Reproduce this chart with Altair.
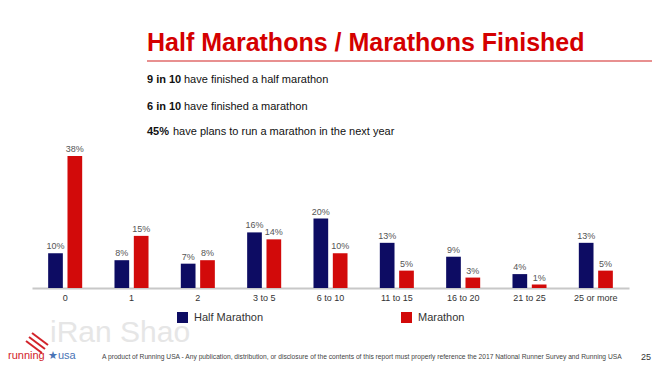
import altair as alt
import pandas as pd

categories = ["0", "1", "2", "3 to 5", "6 to 10", "11 to 15", "16 to 20", "21 to 25", "25 or more"]
half_pct = [10, 8, 7, 16, 20, 13, 9, 4, 13]
full_pct = [38, 15, 8, 14, 10, 5, 3, 1, 5]
series_names = ["Half Marathon", "Marathon"]
series_colors = ["#0d0c63", "#d20a0a"]

title_text = "Half Marathons / Marathons Finished"
bullets_bold = ["9 in 10", "6 in 10", "45%"]
bullets_rest = ["have finished a half marathon",
                "have finished a marathon",
                "have plans to run a marathon in the next year"]
footer_text = ("A product of Running USA - Any publication, distribution, or disclosure of the contents "
               "of this report must properly reference the 2017 National Runner Survey and Running USA")
page_no = "25"
watermark = "iRan Shao"

FONT = "Liberation Sans"

rows = []
for c, h, m in zip(categories, half_pct, full_pct):
    rows.append({"cat": c, "series": series_names[0], "pct": h})
    rows.append({"cat": c, "series": series_names[1], "pct": m})
df = pd.DataFrame(rows)
df["label"] = df["pct"].astype(str) + "%"

x = alt.X("cat:N", sort=categories,
          scale=alt.Scale(paddingInner=0.487, paddingOuter=0.2435),
          axis=alt.Axis(title=None, labelAngle=0, ticks=False, tickSize=0, labelPadding=5,
                        labelFontSize=9, labelColor="#333333", labelFont=FONT,
                        domainColor="#c8c8c8", domainWidth=2, grid=False))
xo = alt.XOffset("series:N", sort=series_names, scale=alt.Scale(paddingInner=0.24))
y = alt.Y("pct:Q", scale=alt.Scale(domain=[0, 40], nice=False), axis=None)
color = alt.Color("series:N", sort=series_names,
                  scale=alt.Scale(domain=series_names, range=series_colors),
                  legend=alt.Legend(orient="none", legendX=145, legendY=163, direction="horizontal",
                                    title=None, symbolType="square", symbolSize=121,
                                    symbolStrokeWidth=0, symbolOpacity=1, labelFontSize=11,
                                    labelColor="#333333", labelFont=FONT, columnPadding=137,
                                    labelOffset=6))

base = alt.Chart(df)
bars = base.mark_bar().encode(x=x, xOffset=xo, y=y, color=color)
labels = base.mark_text(baseline="bottom", dy=-2, fontSize=9, color="#555555", font=FONT).encode(
    x=x, xOffset=xo, y=y, text="label:N")


def note(text, px, py, **kw):
    return alt.Chart(pd.DataFrame({"t": [text]})).mark_text(font=FONT, **kw).encode(
        x=alt.value(px), y=alt.value(py), text="t:N")


def seg(x1, y1, x2, y2, col, w):
    return alt.Chart(pd.DataFrame({"t": [0]})).mark_rule(color=col, strokeWidth=w).encode(
        x=alt.value(x1), y=alt.value(y1), x2=alt.value(x2), y2=alt.value(y2))


layers = [bars, labels]
layers.append(note(watermark, 18, 184, fontSize=30, color="#e6e6e6", align="left", baseline="middle"))
layers.append(note(title_text, 115, -98, fontSize=25, fontWeight="bold", color="#d40000",
                   align="left", baseline="alphabetic"))
layers.append(seg(115, -88, 622, -88, "#e89090", 2))
offsets = [37, 37, 26]
ys = [-69, -42, -17]
for b, r, off, yy in zip(bullets_bold, bullets_rest, offsets, ys):
    layers.append(note(b, 115, yy, fontSize=11, fontWeight="bold", color="#111111",
                       align="left", baseline="middle"))
    layers.append(note(r, 115 + off, yy, fontSize=11, color="#111111",
                       align="left", baseline="middle"))
layers.append(note(footer_text, 70, 208, fontSize=6.7, color="#444444", align="left", baseline="middle"))
layers.append(note(page_no, 619, 208, fontSize=9, color="#333333", align="right", baseline="middle"))
# logo
for i in range(3):
    layers.append(seg(0 - 3 * i, 184 + 4 * i, 16 - 3 * i, 196 + 4 * i, "#d2232a", 2))
layers.append(note("running", -24, 207, fontSize=11, color="#d2232a", align="left", baseline="middle"))
layers.append(note("\u2605usa", 16, 207, fontSize=11, color="#4a74b5", align="left", baseline="middle"))

chart = alt.layer(*layers).properties(
    width=597, height=139,
    autosize=alt.AutoSizeParams(type="none"),
    padding={"left": 24, "top": 141, "right": 23, "bottom": 74},
).configure_view(stroke=None)

chart.save("out.html", embed_options={"renderer": "svg", "actions": False})
